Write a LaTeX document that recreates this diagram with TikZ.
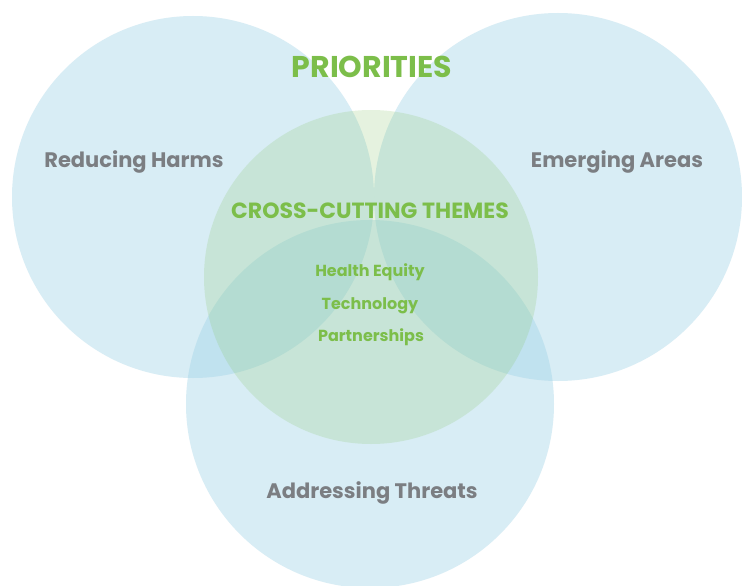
\documentclass[tikz,border=0pt]{standalone}
\usepackage{fontspec}
\setmainfont{Poppins}
\usetikzlibrary{positioning}
\definecolor{Sky}  {HTML}{9ED2E6}
\definecolor{Leaf} {HTML}{8CC86E}
\definecolor{LeafT}{HTML}{7CBE4A}
\definecolor{Slate}{HTML}{7B7E82}
\tikzset{
  area/.style={
    circle, fill=Sky, fill opacity=0.4,
    inner sep=0pt, minimum size=#1,
  },
  theme/.style={
    circle, fill=Leaf, fill opacity=0.22,
    inner sep=0pt, minimum size=#1,
  },
  head/.style={
    font=\bfseries\fontsize{21}{24}\selectfont, text=Slate,
    inner sep=0pt,
  },
  title/.style={
    font=\bfseries\fontsize{#1}{#1}\selectfont, text=LeafT,
    inner sep=0pt,
  },
}
\begin{document}
\begin{tikzpicture}[x=1pt,y=-1pt]
  \useasboundingbox[fill=white] (0,0) rectangle (742,586);
  \begin{scope}
    \clip (0,0) rectangle (742,586);
    % the three priority areas and the themes in between
    \node[area=362pt]  (harms)    at (193,197) {};
    \node[area=368pt]  (emerging) at (558,197) {};
    \node[area=368pt]  (threats)  at (370,404) {};
    \node[theme=334pt] (themes)   at (371,277) {};
  \end{scope}
  \node[title=30] (prio) at (372,67) {PRIORITIES};
  \node[head] (harmsL)    at (134,162) {Reducing Harms};
  \node[head] (emergingL) at (617,162) {Emerging Areas};
  \node[head] (threatsL)  at (372,493) {Addressing Threats};
  \node[title=22] (cross) at (370,211) {CROSS-CUTTING THEMES};
  \node[title=16] (equity) at (370,272) {Health Equity};
  \node[title=16] (tech)   at (370,306) {Technology};
  \node[title=16] (part)   at (371,337) {Partnerships};
\end{tikzpicture}
\end{document}
